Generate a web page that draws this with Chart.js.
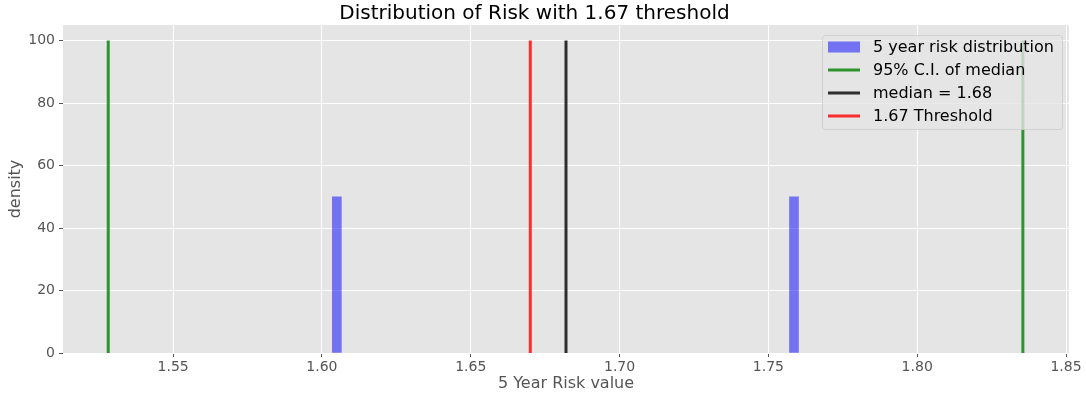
<!DOCTYPE html>
<html>
<head>
<meta charset="utf-8">
<script src="https://cdn.jsdelivr.net/npm/chart.js@4.4.1/dist/chart.umd.min.js"></script>
<style>
  html, body { margin: 0; padding: 0; background: #fff; }
  #wrap { position: relative; width: 1086px; height: 396px; }
</style>
</head>
<body>
<div id="wrap"><canvas id="chart" width="1086" height="396"></canvas></div>
<script>
// histogram bins (centre of bar) and their density
const riskValues = [1.605, 1.7586];
const density = [50, 50];
// reference lines
const ciBounds = [1.5282, 1.8355];
const median = 1.682;
const threshold = 1.67;
const lineTop = 100;
// axis ticks
const xTicks = [1.55, 1.60, 1.65, 1.70, 1.75, 1.80, 1.85];
const yTicks = [0, 20, 40, 60, 80, 100];

const FONT = "'DejaVu Sans', sans-serif";
const vline = x => [{ x, y: 0 }, { x, y: lineTop }];

const lineStyle = color => ({
  type: 'line',
  borderColor: color,
  backgroundColor: color,
  borderWidth: 3,
  borderCapStyle: 'butt',
  pointRadius: 0,
  fill: false,
});

const plotBg = {
  id: 'plotBg',
  beforeDraw(chart) {
    const { ctx, chartArea: a } = chart;
    ctx.save();
    ctx.fillStyle = '#E5E5E5';
    ctx.fillRect(a.left, a.top, a.right - a.left, a.bottom - a.top);
    ctx.restore();
  }
};

// legend drawn inside the plot, upper right, like matplotlib
const innerLegend = {
  id: 'innerLegend',
  afterDatasetsDraw(chart) {
    const { ctx } = chart;
    const items = chart.data.datasets.filter(d => !d.noLegend);
    const x0 = 822, y0 = 35, w = 240, h = 94, row = 23;
    ctx.save();
    ctx.fillStyle = 'rgba(229,229,229,0.8)';
    ctx.strokeStyle = 'rgba(204,204,204,0.8)';
    ctx.lineWidth = 1;
    ctx.beginPath();
    ctx.roundRect(x0 + 0.5, y0 + 0.5, w, h, 3);
    ctx.fill();
    ctx.stroke();
    ctx.font = '16px ' + FONT;
    ctx.textBaseline = 'middle';
    items.forEach((d, i) => {
      const cy = y0 + 12 + i * row;
      if (d.type === 'line') {
        ctx.strokeStyle = d.borderColor;
        ctx.lineWidth = 3;
        ctx.beginPath();
        ctx.moveTo(828, cy);
        ctx.lineTo(860, cy);
        ctx.stroke();
      } else {
        ctx.fillStyle = d.backgroundColor;
        ctx.fillRect(828, cy - 5.5, 32, 11);
      }
      ctx.fillStyle = '#000';
      ctx.fillText(d.label, 873, cy + 1);
    });
    ctx.restore();
  }
};

new Chart(document.getElementById('chart'), {
  type: 'bar',
  data: {
    datasets: [
      {
        type: 'bar',
        label: '5 year risk distribution',
        data: riskValues.map((x, i) => ({ x, y: density[i] })),
        backgroundColor: 'rgba(0,0,255,0.5)',
        borderWidth: 0,
        barThickness: 9,
        order: 5,
      },
      { ...lineStyle('rgba(0,128,0,0.8)'), label: '95% C.I. of median', data: vline(ciBounds[0]) },
      { ...lineStyle('rgba(0,128,0,0.8)'), label: '95% C.I. of median', data: vline(ciBounds[1]), noLegend: true },
      { ...lineStyle('rgba(0,0,0,0.8)'), label: 'median = ' + median.toFixed(2), data: vline(median) },
      { ...lineStyle('rgba(255,0,0,0.8)'), label: threshold + ' Threshold', data: vline(threshold) },
    ]
  },
  options: {
    responsive: false,
    animation: false,
    layout: { padding: { left: 0, right: 17, top: 0, bottom: 3 } },
    plugins: {
      legend: { display: false },
      tooltip: { enabled: false },
      title: {
        display: true,
        text: 'Distribution of Risk with ' + threshold + ' threshold',
        color: '#000',
        font: { family: FONT, size: 20, weight: 'normal', lineHeight: 1.15 },
        padding: { top: 2, bottom: 0 },
      },
    },
    scales: {
      x: {
        type: 'linear',
        min: 1.513,
        max: 1.851,
        offset: false,
        afterBuildTicks: s => { s.ticks = xTicks.map(value => ({ value })); },
        afterFit: s => { s.height = 40; },
        ticks: {
          color: '#555',
          font: { family: FONT, size: 14 },
          padding: 2,
          maxRotation: 0,
          callback: v => v.toFixed(2),
        },
        grid: { color: '#fff', lineWidth: 1, tickColor: '#555', tickLength: 4, offset: false },
        border: { display: false },
        title: {
          display: true,
          text: '5 Year Risk value',
          color: '#555',
          font: { family: FONT, size: 16 },
          padding: { top: 0, bottom: 0 },
        },
      },
      y: {
        min: 0,
        max: 105,
        afterBuildTicks: s => { s.ticks = yTicks.map(value => ({ value })); },
        afterFit: s => { s.width = 63; },
        ticks: {
          color: '#555',
          font: { family: FONT, size: 14 },
          padding: 4,
        },
        grid: { color: '#fff', lineWidth: 1, tickColor: '#555', tickLength: 4 },
        border: { display: false },
        title: {
          display: true,
          text: 'density',
          color: '#555',
          font: { family: FONT, size: 16 },
          padding: { top: 6, bottom: 0 },
        },
      },
    },
  },
  plugins: [plotBg, innerLegend],
});
</script>
</body>
</html>
